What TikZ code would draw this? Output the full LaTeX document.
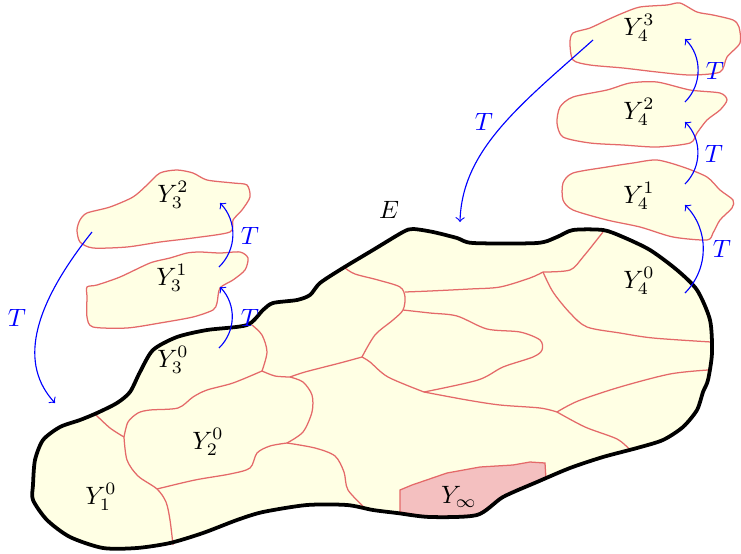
\documentclass[tikz,border=0pt]{standalone}
\definecolor{cream}{RGB}{255,255,228}
\definecolor{wallred}{RGB}{228,105,105}
\definecolor{limpink}{RGB}{244,192,192}
\begin{document}
\begin{tikzpicture}[x=0.014cm, y=-0.014cm, >=to,
    blob/.style={fill=cream, draw=wallred, line width=0.5pt},
    wall/.style={wallred, line width=0.5pt},
    rim/.style={line width=1.5pt, line join=round},
    tmap/.style={->, blue, line width=0.45pt}]
    \useasboundingbox (0,0) rectangle (741,554);

    \fill[cream] plot[smooth cycle, tension=0.45] coordinates {(33,485) (35,460) (43,440) (60,427) (80,420) (97,413) (117,403) (130,392) (140,372) (153,350) (177,337) (207,330) (247,325) (263,310) (273,303) (297,300) (310,295) (320,283) (343,268) (373,250) (403,232) (413,229) (433,232) (457,238) (473,243) (537,243) (557,237) (573,230) (603,230) (623,237) (650,250) (677,270) (697,290) (710,320) (712,353) (708,380) (703,392) (697,410) (683,427) (663,440) (637,448) (603,457) (570,468) (537,482) (503,497) (477,515) (430,517) (397,513) (373,510) (347,505) (307,505) (263,512) (237,520) (203,533) (170,543) (137,548) (103,548) (70,537) (47,520) (33,500)};

    \draw[wall, fill=limpink] (400,512) -- (400,490) -- (412,485) -- (447,473) -- (480,467) -- (513,465) -- (530,462) -- (545,463) -- (546,479) -- (537,482) -- (503,497) -- (477,515) -- (430,517) -- cycle;

    \draw[wall] plot[smooth] coordinates {(95,414) (110,428) (124,437)};
    \draw[wall] plot[smooth] coordinates {(124,437) (128,422) (138,413) (150,410) (178,408) (193,397) (207,390) (233,383) (262,371)};
    \draw[wall] plot[smooth] coordinates {(124,437) (127,460) (138,476) (157,489) (166,502) (170,520) (173,545)};
    \draw[wall] plot[smooth] coordinates {(157,489) (195,480) (230,474) (250,468) (257,453) (270,446) (287,443)};
    \draw[wall] plot[smooth] coordinates {(287,443) (315,448) (335,456) (344,472) (348,490) (366,509)};
    \draw[wall] plot[smooth] coordinates {(287,443) (303,432) (312,412) (312,395) (303,382) (290,377)};
    \draw[wall] plot[smooth] coordinates {(262,371) (275,376) (290,377)};
    \draw[wall] plot[smooth] coordinates {(252,325) (262,335) (267,352) (262,371)};
    \draw[wall] plot[smooth] coordinates {(290,377) (305,372) (340,363) (362,357)};
    \draw[wall] plot[smooth] coordinates {(345,268) (355,274) (378,280) (400,287) (405,297) (403,310) (393,320) (375,335) (362,357)};
    \draw[wall] plot[smooth] coordinates {(405,292) (430,291) (470,289) (500,287) (530,278) (543,272)};
    \draw[wall] plot[smooth] coordinates {(543,272) (570,270) (583,257) (603,232)};
    \draw[wall] plot[smooth] coordinates {(543,272) (553,292) (570,313) (587,327) (620,333) (653,338) (711,342)};
    \draw[wall] plot[smooth] coordinates {(403,310) (430,313) (457,316) (487,329) (520,332) (540,340) (542,350) (533,357) (503,367) (478,380) (424,392)};
    \draw[wall] plot[smooth] coordinates {(362,357) (370,362) (388,377) (424,392)};
    \draw[wall] plot[smooth] coordinates {(424,392) (467,400) (500,405) (540,408) (557,412)};
    \draw[wall] plot[smooth] coordinates {(557,412) (578,401) (620,387) (670,374) (708,370)};
    \draw[wall] plot[smooth] coordinates {(557,412) (585,427) (617,439) (630,450)};

    \draw[rim] plot[smooth cycle, tension=0.45] coordinates {(33,485) (35,460) (43,440) (60,427) (80,420) (97,413) (117,403) (130,392) (140,372) (153,350) (177,337) (207,330) (247,325) (263,310) (273,303) (297,300) (310,295) (320,283) (343,268) (373,250) (403,232) (413,229) (433,232) (457,238) (473,243) (537,243) (557,237) (573,230) (603,230) (623,237) (650,250) (677,270) (697,290) (710,320) (712,353) (708,380) (703,392) (697,410) (683,427) (663,440) (637,448) (603,457) (570,468) (537,482) (503,497) (477,515) (430,517) (397,513) (373,510) (347,505) (307,505) (263,512) (237,520) (203,533) (170,543) (137,548) (103,548) (70,537) (47,520) (33,500)};

    \draw[blob] plot[smooth cycle, tension=0.45] coordinates {(80,220) (87,213) (110,207) (133,197) (147,185) (160,173) (177,170) (193,173) (207,180) (233,183) (247,185) (250,197) (242,210) (233,220) (230,232) (193,238) (160,242) (127,247) (93,248) (80,242) (77,230)};
    \draw[blob] plot[smooth cycle, tension=0.45] coordinates {(87,287) (97,285) (120,277) (150,263) (170,258) (187,253) (200,252) (220,253) (240,252) (248,258) (245,270) (233,280) (220,288) (217,303) (213,310) (193,317) (160,323) (127,328) (93,327) (87,317) (87,297)};
    \draw[blob] plot[smooth cycle, tension=0.45] coordinates {(573,33) (590,28) (607,20) (623,13) (640,7) (667,5) (680,3) (697,12) (713,15) (733,20) (739,27) (740,43) (727,57) (720,72) (690,75) (657,72) (623,68) (590,65) (573,60) (570,43)};
    \draw[blob] plot[smooth cycle, tension=0.45] coordinates {(560,107) (573,97) (607,90) (630,83) (657,82) (690,90) (720,93) (727,100) (720,110) (707,120) (697,133) (690,143) (657,147) (623,145) (590,143) (563,137) (557,123)};
    \draw[blob] plot[smooth cycle, tension=0.45] coordinates {(563,183) (573,173) (607,167) (633,163) (657,160) (683,167) (707,177) (720,190) (733,200) (732,208) (720,220) (713,233) (707,240) (673,237) (640,227) (607,220) (573,210) (563,200)};

    \node (y32) at (173,195) {\(Y_3^2\)};
    \node (y31) at (172,278) {\(Y_3^1\)};
    \node (y30) at (173,360) {\(Y_3^0\)};
    \node (y20) at (208,442) {\(Y_2^0\)};
    \node (y10) at (101,497) {\(Y_1^0\)};
    \node (y43) at (639,28) {\(Y_4^3\)};
    \node (y42) at (639,112) {\(Y_4^2\)};
    \node (y41) at (639,196) {\(Y_4^1\)};
    \node (y40) at (639,281) {\(Y_4^0\)};
    \node (yinf) at (459,497) {\(Y_\infty\)};
    \node (e) at (389,210) {\(E\)};

    \coordinate (s30) at (219,348);
    \coordinate (t30) at (220,287);
    \coordinate (s31) at (219,267);
    \coordinate (t31) at (220,203);
    \coordinate (s32) at (92,232);
    \coordinate (t32) at (55,403);
    \coordinate (s40) at (685,293);
    \coordinate (t40) at (685,205);
    \coordinate (s41) at (685,184);
    \coordinate (t41) at (685,122);
    \coordinate (s42) at (685,102);
    \coordinate (t42) at (685,39);
    \coordinate (s43) at (593,40);
    \coordinate (t43) at (460,222);

    \draw[tmap] (s30) to[bend right=45] (t30);
    \draw[tmap] (s31) to[bend right=45] (t31);
    \draw[tmap] (s32) .. controls (30,310) and (20,365) .. (t32);
    \draw[tmap] (s40) to[bend right=45] (t40);
    \draw[tmap] (s41) to[bend right=45] (t41);
    \draw[tmap] (s42) to[bend right=45] (t42);
    \draw[tmap] (s43) .. controls (520,105) and (462,150) .. (t43);

    \node[blue] (ta) at (250,318) {\(T\)};
    \node[blue] (tb) at (250,236) {\(T\)};
    \node[blue] (tc) at (17,318) {\(T\)};
    \node[blue] (td) at (722,249) {\(T\)};
    \node[blue] (te) at (714,154) {\(T\)};
    \node[blue] (tf) at (715,71) {\(T\)};
    \node[blue] (tg) at (484,122) {\(T\)};
\end{tikzpicture}
\end{document}
